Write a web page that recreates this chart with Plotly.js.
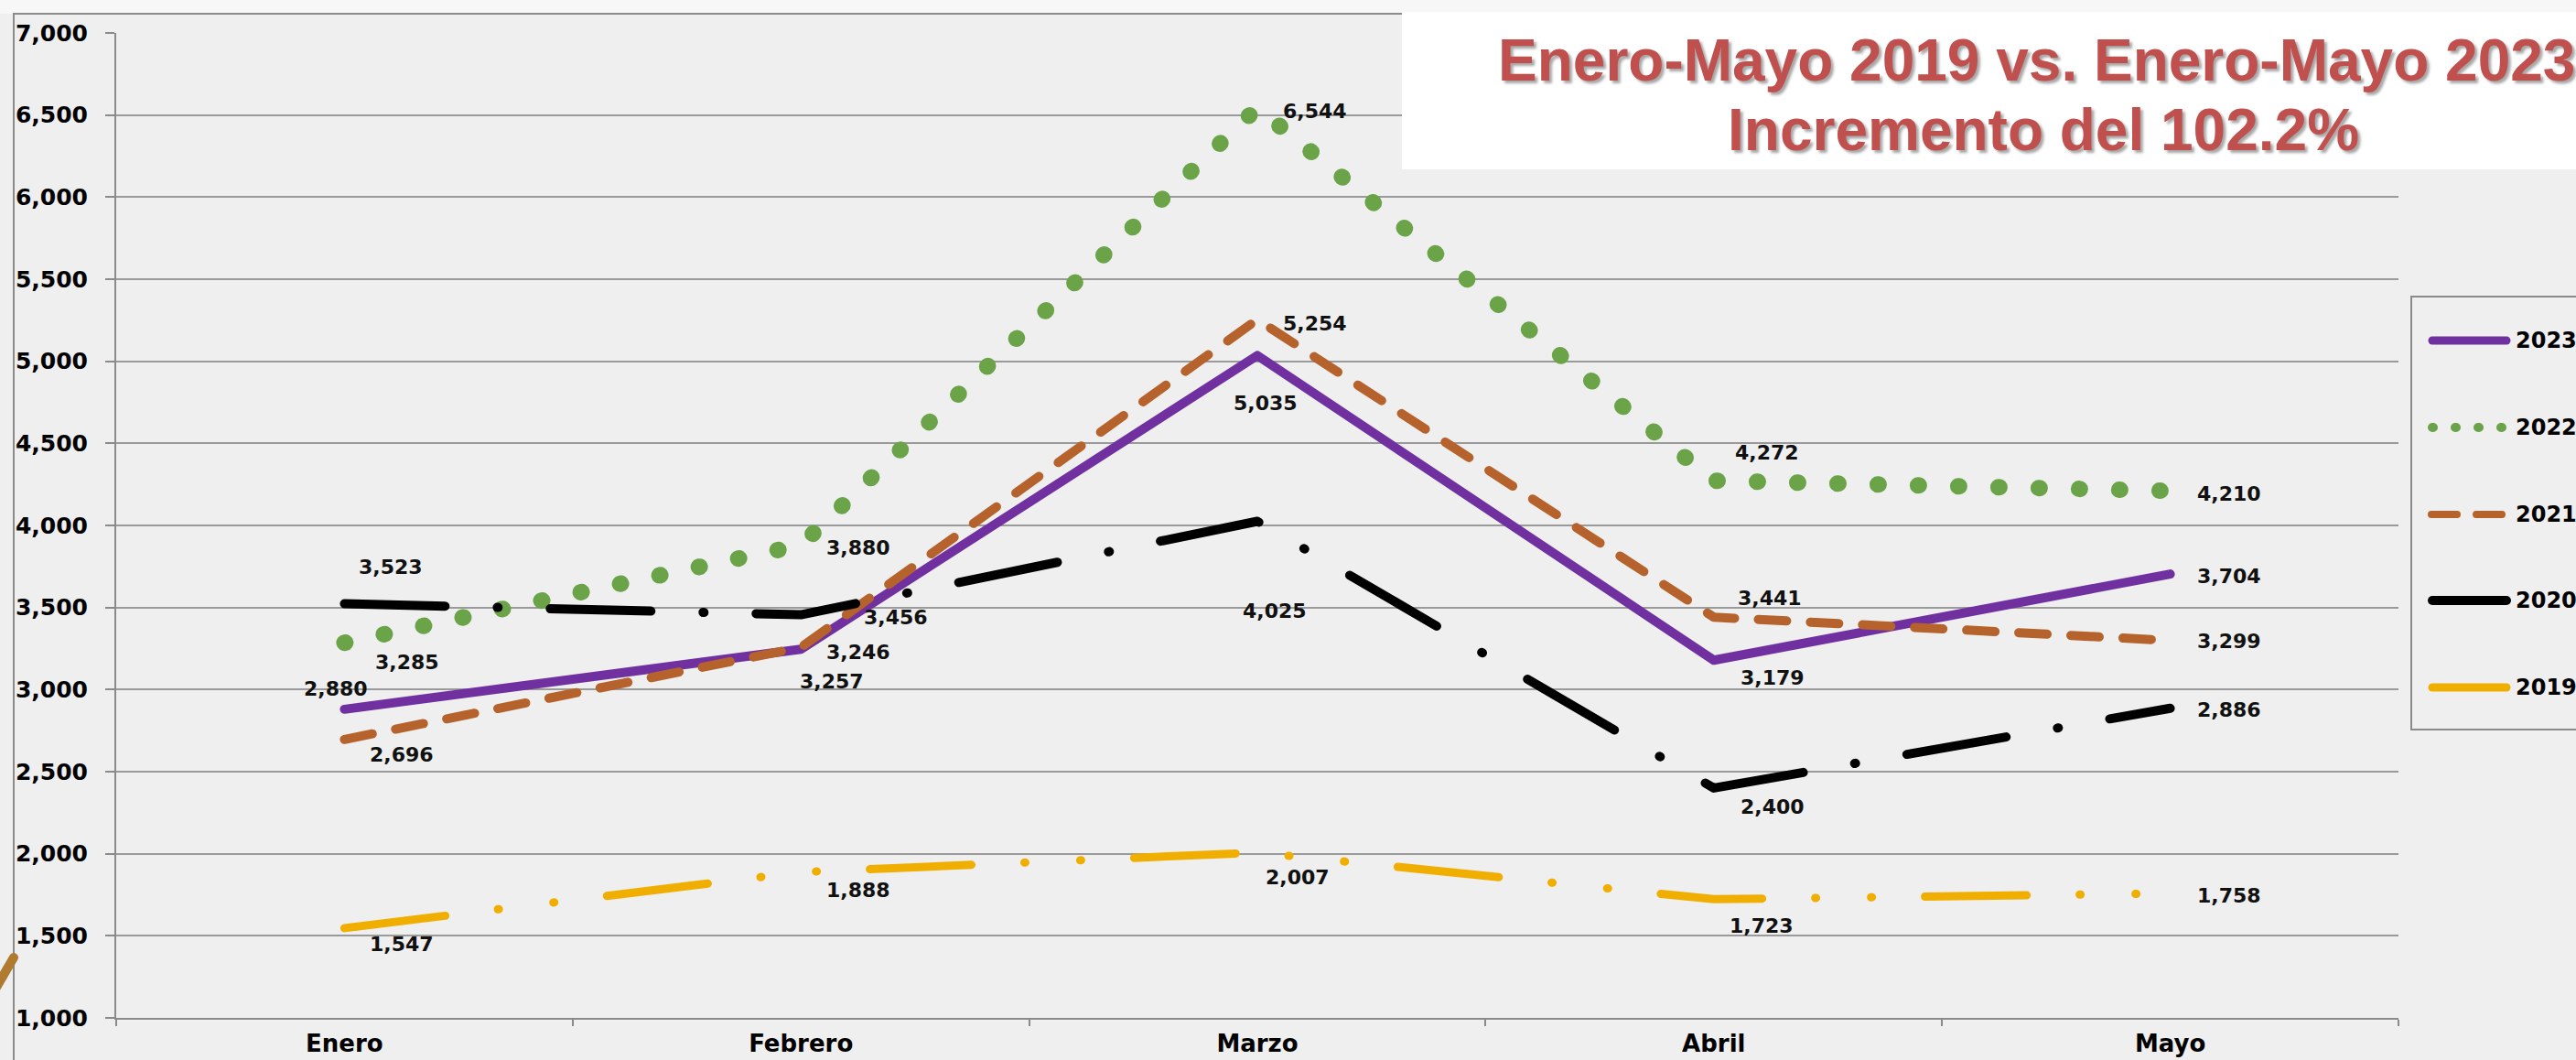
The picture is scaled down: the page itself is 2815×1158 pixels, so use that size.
<!DOCTYPE html>
<html>
<head>
<meta charset="utf-8">
<script src="https://cdn.plot.ly/plotly-3.0.1.min.js"></script>
<style>
  html, body { margin: 0; padding: 0; background: #efefef; }
  #chart { width: 2815px; height: 1158px; }
</style>
</head>
<body>
<div id="chart"></div>
<script>
// ---------------- DATA ----------------
const months = ['Enero', 'Febrero', 'Marzo', 'Abril', 'Mayo'];
const seriesNames = ['2023', '2022', '2021', '2020', '2019'];
const v2023 = [2880, 3246, 5035, 3179, 3704];
const v2022 = [3285, 3880, 6544, 4272, 4210];
const v2021 = [2696, 3257, 5254, 3441, 3299];
const v2020 = [3523, 3456, 4025, 2400, 2886];
const v2019 = [1547, 1888, 2007, 1723, 1758];
const titleLines = ['Enero-Mayo 2019 vs. Enero-Mayo 2023', 'Incremento del 102.2%'];

// ---------------- STYLE ----------------
const W = 2815, H = 1158;
const M = { l: 127, r: 194, t: 36, b: 46 };
const PW = W - M.l - M.r, PH = H - M.t - M.b;
const px = X => (X - M.l) / PW;          // pixel -> paper x
const py = Y => (H - M.b - Y) / PH;      // pixel -> paper y

const styles = {
  '2023': { color: '#7030A0', width: 10, dash: 'solid', lg: { width: 9, dash: 'solid' } },
  '2022': { color: '#6AA348', width: 18, dash: '1px,43px', lg: { width: 10, dash: '1px,24px' } },
  '2021': { color: '#B5622C', width: 10, dash: '31px,26px', lg: { width: 8, dash: '28px,21px' } },
  '2020': { color: '#000000', width: 10, dash: '110px,57px,1px,57px', lg: { width: 10, dash: 'solid' } },
  '2019': { color: '#F0AF00', width: 9, dash: '111px,58px,1px,60px,1px,58px', lg: { width: 9, dash: 'solid' } }
};
const valuesBy = { '2023': v2023, '2022': v2022, '2021': v2021, '2020': v2020, '2019': v2019 };

// label offsets (px): [xshift, yshift]
const labelOffsets = {
  '2023': [[-9, 22], [63, -3], [9, -52], [64, -19], [64, -2]],
  '2022': [[69, -21], [63, -3], [63, -4], [58, 31], [64, -3]],
  '2021': [[63, -17], [34, -37], [63, -4], [61, 21], [64, -1]],
  '2020': [[51, 40], [104, -3], [19, -98], [64, -21], [64, -2]],
  '2019': [[63, -18], [63, -20], [44, -27], [52, -29], [64, -2]]
};

const labelFont = { family: 'DejaVu Sans, Verdana, sans-serif', size: 22, color: '#111111', weight: 'bold' };

// ---------------- TRACES ----------------
const traces = seriesNames.map(name => ({
  type: 'scatter', mode: 'lines', name: name,
  x: months, y: valuesBy[name],
  line: { color: styles[name].color, width: styles[name].width, dash: styles[name].dash },
  hoverinfo: 'skip', showlegend: false
}));

// ---------------- ANNOTATIONS ----------------
const annotations = [];
seriesNames.forEach(name => {
  valuesBy[name].forEach((v, i) => {
    annotations.push({
      x: months[i], y: v, xref: 'x', yref: 'y',
      text: v.toLocaleString('en-US'),
      showarrow: false, xanchor: 'center', yanchor: 'middle',
      xshift: labelOffsets[name][i][0], yshift: labelOffsets[name][i][1],
      font: labelFont
    });
  });
});
// title
const titleFont = { family: 'Liberation Sans, Arial, sans-serif', size: 64, color: '#C0504D', weight: 'bold',
                    shadow: '3px 3px 3px rgba(0,0,0,0.35)' };
annotations.push({ x: px(2225), y: py(66), xref: 'paper', yref: 'paper', text: titleLines[0],
  showarrow: false, xanchor: 'center', yanchor: 'middle', font: titleFont });
annotations.push({ x: px(2233), y: py(142), xref: 'paper', yref: 'paper', text: titleLines[1],
  showarrow: false, xanchor: 'center', yanchor: 'middle', font: titleFont });

// legend (custom)
const legendY = [372, 467, 562, 656, 751];
const shapes = [];
// top light strip
shapes.push({ type: 'rect', xref: 'paper', yref: 'paper', x0: px(-10), x1: px(W + 10), y0: py(15), y1: py(-10),
  fillcolor: '#f7f7f7', line: { width: 0 }, layer: 'below' });
// outer chart frame
shapes.push({ type: 'rect', xref: 'paper', yref: 'paper', x0: px(15), x1: px(W + 40), y0: py(H + 40), y1: py(15),
  fillcolor: 'rgba(0,0,0,0)', line: { color: '#8a8a8a', width: 2 }, layer: 'below' });
// stray line fragment bottom-left
shapes.push({ type: 'line', xref: 'paper', yref: 'paper', x0: px(-6), y0: py(1082), x1: px(15), y1: py(1046),
  line: { color: '#B07A30', width: 10 }, layer: 'below' });
// white title box
shapes.push({ type: 'rect', xref: 'paper', yref: 'paper', x0: px(1532), x1: px(W + 40), y0: py(185), y1: py(13),
  fillcolor: '#ffffff', line: { width: 0 }, layer: 'above' });
// legend box
shapes.push({ type: 'rect', xref: 'paper', yref: 'paper', x0: px(2635), x1: px(W + 40), y0: py(797), y1: py(324),
  fillcolor: 'rgba(0,0,0,0)', line: { color: '#8a8a8a', width: 2 }, layer: 'below' });
seriesNames.forEach((name, k) => {
  const st = styles[name];
  const x0 = name === '2021' ? 2657 : 2658;
  const x1 = name === '2021' ? 2735 : 2739;
  shapes.push({ type: 'line', xref: 'paper', yref: 'paper', x0: px(x0), x1: px(x1), y0: py(legendY[k]), y1: py(legendY[k]),
    line: { color: st.color, width: st.lg.width, dash: st.lg.dash }, layer: 'above' });
  annotations.push({ x: px(2747), y: py(legendY[k]), xref: 'paper', yref: 'paper', text: name,
    showarrow: false, xanchor: 'left', yanchor: 'middle',
    font: { family: 'DejaVu Sans, Verdana, sans-serif', size: 24, color: '#000000', weight: 'bold' } });
});

// ---------------- LAYOUT ----------------
const layout = {
  width: W, height: H,
  margin: M,
  paper_bgcolor: '#efefef', plot_bgcolor: '#efefef',
  showlegend: false,
  xaxis: {
    type: 'category', range: [-0.5, months.length - 0.5], autorange: false,
    tickson: 'boundaries', ticks: 'outside', ticklen: 7, tickwidth: 2, tickcolor: '#8a8a8a',
    showgrid: false, showline: true, linecolor: '#8a8a8a', linewidth: 2, zeroline: false,
    tickfont: { family: 'DejaVu Sans, Verdana, sans-serif', size: 26, color: '#000000', weight: 'bold' },
    ticklabelstandoff: 4, fixedrange: true
  },
  yaxis: {
    range: [1000, 7000], autorange: false, dtick: 500, tick0: 1000, tickformat: ',d',
    ticks: 'outside', ticklen: 10, tickwidth: 2, tickcolor: '#8a8a8a',
    showgrid: true, gridcolor: '#9a9a9a', gridwidth: 2,
    showline: true, linecolor: '#8a8a8a', linewidth: 2, zeroline: false,
    tickfont: { family: 'DejaVu Sans, Verdana, sans-serif', size: 25, color: '#000000', weight: 'bold' },
    ticklabelstandoff: 14, fixedrange: true
  },
  annotations: annotations,
  shapes: shapes
};

Plotly.newPlot('chart', traces, layout, { displayModeBar: false, staticPlot: true }).then(gd => {
  gd.querySelectorAll('.scatterlayer path.js-line').forEach(p => {
    p.style.strokeLinecap = 'round';
    p.style.strokeLinejoin = 'round';
  });
  gd.querySelectorAll('.shapelayer path, .layer-below path, .layer-above path').forEach(p => {
    p.style.strokeLinecap = 'round';
  });
});
</script>
</body>
</html>
